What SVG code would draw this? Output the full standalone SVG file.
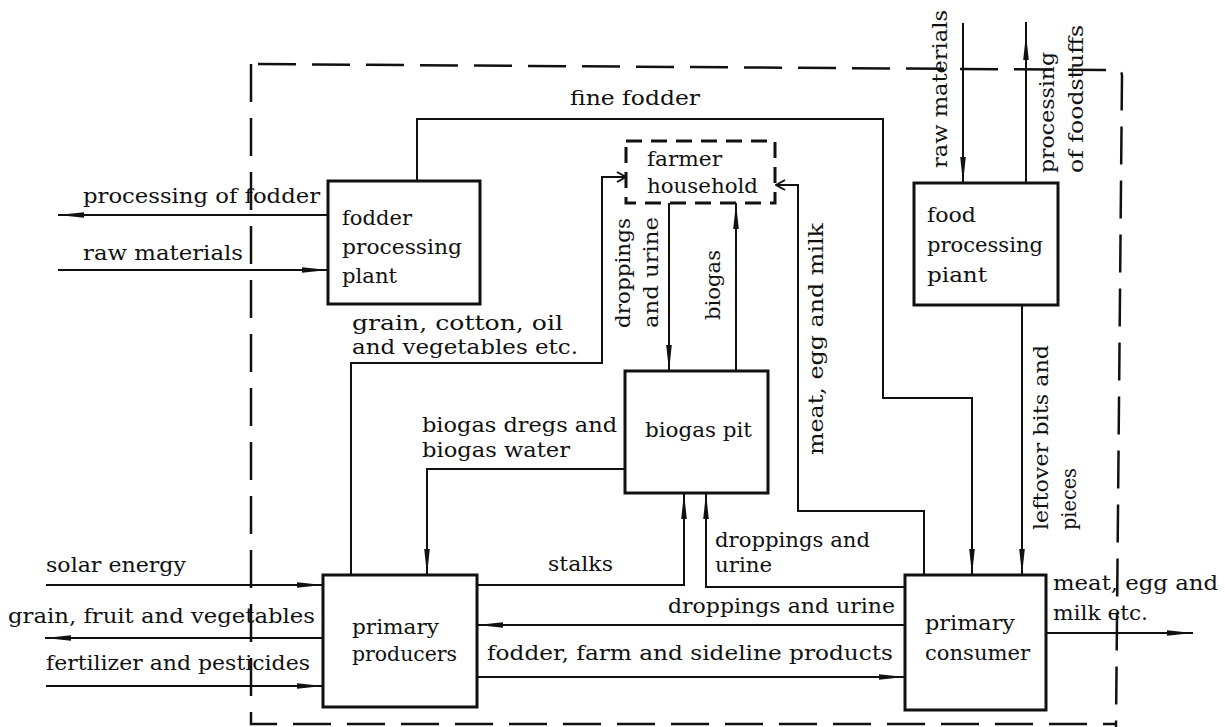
<svg xmlns="http://www.w3.org/2000/svg" width="1225" height="727" viewBox="0 0 1225 727">
<style>
.t{font-family:"DejaVu Serif","Liberation Serif",serif;font-size:21px;fill:#111}
.box{fill:#fff;stroke:#111;stroke-width:3}
.hh{fill:#fff;stroke:#111;stroke-width:3;stroke-dasharray:16 9}
.ln{fill:none;stroke:#111;stroke-width:2}
.bd{fill:none;stroke:#111;stroke-width:2.5;stroke-dasharray:38 16}
</style>
<defs>
<marker id="ah" markerUnits="userSpaceOnUse" markerWidth="28" markerHeight="10" refX="26" refY="5" orient="auto"><path d="M0,2.2 L26,5 L0,7.8 z" fill="#111"/></marker>
<marker id="oa" markerUnits="userSpaceOnUse" markerWidth="12" markerHeight="12" refX="10" refY="6" orient="auto"><path d="M1,1 L10,6 L1,11" fill="none" stroke="#111" stroke-width="2"/></marker>
</defs>
<rect width="1225" height="727" fill="#fff"/>

<g id="boundary">
<path class="bd" d="M258,64 L1116,70 Q1122,70 1122,76 L1116,727"/>
<path class="bd" d="M251,64 L251,724 L1116,724"/>
</g>

<g id="connectors">
<path class="ln" d="M328,215 L58,215" marker-end="url(#ah)"/>
<path class="ln" d="M58,270 L328,270" marker-end="url(#ah)"/>
<path class="ln" d="M417,181 L417,119 L883,119 L883,398 L972,398 L972,575" marker-end="url(#ah)"/>
<path class="ln" d="M351,575 L351,363 L602,363 L602,177 L626,177" marker-end="url(#oa)"/>
<path class="ln" d="M669,203 L669,371" marker-end="url(#ah)"/>
<path class="ln" d="M736,371 L736,203" marker-end="url(#ah)"/>
<path class="ln" d="M924,575 L924,511 L798,511 L798,185 L776,185" marker-end="url(#oa)"/>
<path class="ln" d="M625,469 L427,469 L427,575" marker-end="url(#ah)"/>
<path class="ln" d="M477,585 L684,585 L684,493" marker-end="url(#ah)"/>
<path class="ln" d="M905,587 L706,587 L706,493" marker-end="url(#ah)"/>
<path class="ln" d="M905,625 L477,625" marker-end="url(#ah)"/>
<path class="ln" d="M477,677 L905,677" marker-end="url(#ah)"/>
<path class="ln" d="M1022,305 L1022,575" marker-end="url(#ah)"/>
<path class="ln" d="M963,23 L963,183" marker-end="url(#ah)"/>
<path class="ln" d="M1026,22 L1026,34 M1026,183 L1026,34" marker-end="url(#ah)"/>
<path class="ln" d="M46,585 L323,585" marker-end="url(#ah)"/>
<path class="ln" d="M323,638 L45,638" marker-end="url(#ah)"/>
<path class="ln" d="M46,686 L323,686" marker-end="url(#ah)"/>
<path class="ln" d="M1046,633 L1193,633" marker-end="url(#ah)"/>
</g>

<g id="connector-labels">
<text class="t" x="83" y="203" textLength="237" lengthAdjust="spacingAndGlyphs">processing of fodder</text>
<text class="t" x="83" y="260" textLength="160" lengthAdjust="spacingAndGlyphs">raw materials</text>
<text class="t" x="570" y="105" textLength="130" lengthAdjust="spacingAndGlyphs">fine fodder</text>
<text class="t" x="352" y="330" textLength="211" lengthAdjust="spacingAndGlyphs">grain, cotton, oil</text>
<text class="t" x="352" y="354" textLength="226" lengthAdjust="spacingAndGlyphs">and vegetables etc.</text>
<text class="t" x="422" y="432" textLength="195" lengthAdjust="spacingAndGlyphs">biogas dregs and</text>
<text class="t" x="422" y="457" textLength="148" lengthAdjust="spacingAndGlyphs">biogas water</text>
<text class="t" x="548" y="571" textLength="65" lengthAdjust="spacingAndGlyphs">stalks</text>
<text class="t" x="715" y="547" textLength="155" lengthAdjust="spacingAndGlyphs">droppings and</text>
<text class="t" x="715" y="572" textLength="57" lengthAdjust="spacingAndGlyphs">urine</text>
<text class="t" x="668" y="613" textLength="227" lengthAdjust="spacingAndGlyphs">droppings and urine</text>
<text class="t" x="487" y="660" textLength="406" lengthAdjust="spacingAndGlyphs">fodder, farm and sideline products</text>
<text class="t" x="1053" y="590" textLength="165" lengthAdjust="spacingAndGlyphs">meat, egg and</text>
<text class="t" x="1053" y="620" textLength="95" lengthAdjust="spacingAndGlyphs">milk etc.</text>
<text class="t" x="46" y="572" textLength="140" lengthAdjust="spacingAndGlyphs">solar energy</text>
<text class="t" x="8" y="623" textLength="307" lengthAdjust="spacingAndGlyphs">grain, fruit and vegetables</text>
<text class="t" x="46" y="670" textLength="264" lengthAdjust="spacingAndGlyphs">fertilizer and pesticides</text>
<text class="t" transform="translate(630,328) rotate(-90)" textLength="110" lengthAdjust="spacingAndGlyphs">droppings</text>
<text class="t" transform="translate(658,328) rotate(-90)" textLength="111" lengthAdjust="spacingAndGlyphs">and urine</text>
<text class="t" transform="translate(720,320) rotate(-90)" textLength="70" lengthAdjust="spacingAndGlyphs">biogas</text>
<text class="t" transform="translate(823,455) rotate(-90)" textLength="232" lengthAdjust="spacingAndGlyphs">meat, egg and milk</text>
<text class="t" transform="translate(1048,530) rotate(-90)" textLength="185" lengthAdjust="spacingAndGlyphs">leftover bits and</text>
<text class="t" transform="translate(1076,530) rotate(-90)" textLength="62" lengthAdjust="spacingAndGlyphs">pieces</text>
<text class="t" transform="translate(947,168) rotate(-90)" textLength="158" lengthAdjust="spacingAndGlyphs">raw materials</text>
<text class="t" transform="translate(1054,173) rotate(-90)" textLength="121" lengthAdjust="spacingAndGlyphs">processing</text>
<text class="t" transform="translate(1083,173) rotate(-90)" textLength="148" lengthAdjust="spacingAndGlyphs">of foodstuffs</text>
</g>

<g id="fodder-plant">
<rect class="box" x="328" y="181" width="152" height="123"/>
<text class="t" x="342" y="225" textLength="70" lengthAdjust="spacingAndGlyphs">fodder</text>
<text class="t" x="342" y="254" textLength="120" lengthAdjust="spacingAndGlyphs">processing</text>
<text class="t" x="342" y="283" textLength="55" lengthAdjust="spacingAndGlyphs">plant</text>
</g>

<g id="farmer-household">
<rect class="hh" x="626" y="141" width="149" height="62"/>
<text class="t" x="647" y="166" textLength="75" lengthAdjust="spacingAndGlyphs">farmer</text>
<text class="t" x="647" y="193" textLength="111" lengthAdjust="spacingAndGlyphs">household</text>
</g>

<g id="biogas-pit">
<rect class="box" x="625" y="371" width="143" height="122"/>
<text class="t" x="645" y="437" textLength="107" lengthAdjust="spacingAndGlyphs">biogas pit</text>
</g>

<g id="food-plant">
<rect class="box" x="914" y="183" width="144" height="122"/>
<text class="t" x="927" y="222" textLength="49" lengthAdjust="spacingAndGlyphs">food</text>
<text class="t" x="927" y="252" textLength="116" lengthAdjust="spacingAndGlyphs">processing</text>
<text class="t" x="927" y="282" textLength="60" lengthAdjust="spacingAndGlyphs">piant</text>
</g>

<g id="primary-producers">
<rect class="box" x="323" y="575" width="154" height="132"/>
<text class="t" x="352" y="634" textLength="87" lengthAdjust="spacingAndGlyphs">primary</text>
<text class="t" x="352" y="661" textLength="105" lengthAdjust="spacingAndGlyphs">producers</text>
</g>

<g id="primary-consumer">
<rect class="box" x="905" y="575" width="141" height="135"/>
<text class="t" x="925" y="630" textLength="90" lengthAdjust="spacingAndGlyphs">primary</text>
<text class="t" x="925" y="660" textLength="105" lengthAdjust="spacingAndGlyphs">consumer</text>
</g>
</svg>
